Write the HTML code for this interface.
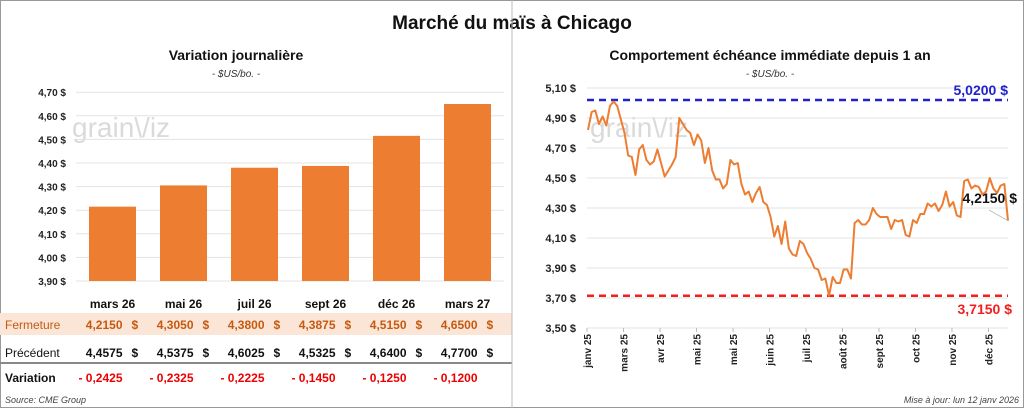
<!DOCTYPE html>
<html><head><meta charset="utf-8">
<style>
body{margin:0;width:1024px;height:408px;background:#fff;font-family:"Liberation Sans",sans-serif;overflow:hidden}
#wrap{position:absolute;left:0;top:0;width:1022px;height:406px;border:1px solid #999}
text{font-family:"Liberation Sans",sans-serif}
</style></head><body>
<div id="wrap">
<svg id="svg" width="1024" height="408" style="position:absolute;left:-1px;top:-1px">
<text x="512" y="29" text-anchor="middle" font-size="19" font-weight="bold" fill="#111">Marché du maïs à Chicago</text>
<text x="236" y="60" text-anchor="middle" font-size="14" font-weight="bold" fill="#111">Variation  journalière</text>
<text x="236" y="77" text-anchor="middle" font-size="10" font-style="italic" fill="#333">- $US/bo. -</text>
<text x="770" y="60" text-anchor="middle" font-size="14" font-weight="bold" fill="#111">Comportement échéance immédiate depuis 1 an</text>
<text x="770" y="77" text-anchor="middle" font-size="10" font-style="italic" fill="#333">- $US/bo. -</text>
<rect x="0" y="313" width="512" height="22" fill="#fbe5d6"/>
<line x1="0" y1="363" x2="512" y2="363" stroke="#888" stroke-width="2"/>
<line x1="512" y1="0" x2="512" y2="408" stroke="#bbb" stroke-width="1"/>
<text x="72" y="137" font-size="28" fill="#dadada">grain\/iz</text>
<text x="590" y="137" font-size="28" fill="#dadada">grain\/iz</text>
<g id="left"></g><g id="right"></g><g id="table"></g>
<text x="5" y="403" font-size="9" font-style="italic" fill="#444">Source: CME Group</text>
<text x="1019" y="403" text-anchor="end" font-size="9" font-style="italic" fill="#444">Mise à jour: lun 12 janv 2026</text>
</svg></div>
<script>
const barCats=["mars 26","mai 26","juil 26","sept 26","déc 26","mars 27"];
const closeVals=[4.2150,4.3050,4.3800,4.3875,4.5150,4.6500];
const prevVals=[4.4575,4.5375,4.6025,4.5325,4.6400,4.7700];
const varLabels=["- 0,2425","- 0,2325","- 0,2225","- 0,1450","- 0,1250","- 0,1200"];
const leftTicks=[3.9,4.0,4.1,4.2,4.3,4.4,4.5,4.6,4.7];
const priceVals=[4.82,4.94,4.95,4.86,4.91,4.85,4.98,5.01,4.98,4.89,4.80,4.65,4.64,4.52,4.69,4.72,4.62,4.59,4.61,4.69,4.60,4.51,4.55,4.59,4.64,4.90,4.86,4.82,4.80,4.72,4.79,4.75,4.60,4.70,4.55,4.49,4.49,4.43,4.46,4.62,4.59,4.60,4.46,4.39,4.41,4.34,4.40,4.44,4.34,4.32,4.24,4.11,4.18,4.06,4.21,4.03,3.99,3.98,4.08,4.06,4.00,3.96,3.90,3.89,3.82,3.83,3.715,3.84,3.80,3.80,3.89,3.89,3.83,4.20,4.22,4.19,4.19,4.22,4.30,4.26,4.24,4.24,4.24,4.16,4.22,4.21,4.22,4.12,4.11,4.22,4.20,4.26,4.26,4.33,4.31,4.33,4.28,4.32,4.41,4.31,4.34,4.25,4.24,4.48,4.49,4.43,4.45,4.44,4.39,4.41,4.50,4.43,4.40,4.45,4.46,4.215];
const rightTicks=[3.5,3.7,3.9,4.1,4.3,4.5,4.7,4.9,5.1];
const monthLabels=["janv 25","mars 25","avr 25","mai 25","mai 25","juin 25","juil 25","août 25","sept 25","oct 25","nov 25","déc 25"];
const highVal=5.02, lowVal=3.715, lastVal=4.215;
const NS="http://www.w3.org/2000/svg";
function mk(parent,tag,attrs,txt){const e=document.createElementNS(NS,tag);for(const k in attrs)e.setAttribute(k,attrs[k]);if(txt!==undefined)e.textContent=txt;parent.appendChild(e);return e;}
const fmt=v=>v.toFixed(2).replace('.',',')+' $';
const fmt4=v=>v.toFixed(4).replace('.',',');
const L=document.getElementById('left');
const ly=v=>281-(v-3.9)*236;
const lx=i=>112.5+i*71;
leftTicks.forEach(t=>{
 const g=mk(L,'line',{x1:76,x2:504,y1:ly(t),y2:ly(t),stroke:'#e3e3e3'});
 
 
 const tx=mk(L,'text',{x:66,y:ly(t)+4,'text-anchor':'end','font-size':10,'font-weight':'bold',fill:'#222'},fmt(t));
 
 
});
closeVals.forEach((v,i)=>{
 const r=mk(L,'rect',{x:lx(i)-23.5,y:ly(v),width:47,height:281-ly(v),fill:'#ed7d31'});
 
 
});
const T=document.getElementById('table');
function cell(x,y,t,opt,name){const e=mk(T,'text',Object.assign({x:x,y:y,'font-size':12,'font-weight':'bold'},opt),t);
 
 return e;}
cell(5,329,'Fermeture',{fill:'#c55a11','font-weight':'normal'},'row-label-fermeture');
cell(5,357,'Précédent',{fill:'#111','font-weight':'normal'},'row-label-precedent');
cell(5,382,'Variation',{fill:'#111'},'row-label-variation');
barCats.forEach((c,i)=>{
 const cx=lx(i);
 cell(cx,308,c,{'text-anchor':'middle',fill:'#111'},'column-header');
 cell(cx+10,329,fmt4(closeVals[i]),{'text-anchor':'end',fill:'#c55a11'},'close-value');
 cell(cx+19,329,'$',{fill:'#c55a11'},'close-currency');
 cell(cx+10,357,fmt4(prevVals[i]),{'text-anchor':'end',fill:'#111'},'previous-value');
 cell(cx+19,357,'$',{fill:'#111'},'previous-currency');
 cell(cx+10,382,varLabels[i],{'text-anchor':'end',fill:'#e00'},'variation-value');
});
const R=document.getElementById('right');
const ry=v=>88+(5.1-v)*150;
const x0=588,x1=1008;
const rx=i=>x0+i*(x1-x0)/(priceVals.length-1);
rightTicks.forEach(t=>{
 const g=mk(R,'line',{x1:587,x2:1008,y1:ry(t),y2:ry(t),stroke:'#e3e3e3'});
 
 
 const tx=mk(R,'text',{x:576,y:ry(t)+4,'text-anchor':'end','font-size':11,'font-weight':'bold',fill:'#222'},fmt(t));
 
 
});
monthLabels.forEach((m,i)=>{
 const x=587+i*36.5;
 const tk=mk(R,'line',{x1:x,x2:x,y1:328,y2:332,stroke:'#bbb'});
 
 
 const t=mk(R,'text',{x:0,y:0,transform:`translate(${x+4},334) rotate(-90)`,'text-anchor':'end','font-size':10,'font-weight':'bold',fill:'#222'},m);
 
 
});
const hl=mk(R,'line',{x1:587,x2:1008,y1:ry(highVal),y2:ry(highVal),stroke:'#2222cc','stroke-width':2.5,'stroke-dasharray':'7,5'});


const ll=mk(R,'line',{x1:587,x2:1008,y1:ry(lowVal),y2:ry(lowVal),stroke:'#f02020','stroke-width':2.5,'stroke-dasharray':'7,5'});


const ht=mk(R,'text',{x:1008,y:ry(highVal)-5,'text-anchor':'end','font-size':14,'font-weight':'bold',fill:'#2222cc'},fmt4(highVal)+' $');


const lt=mk(R,'text',{x:1012,y:ry(lowVal)+18,'text-anchor':'end','font-size':14,'font-weight':'bold',fill:'#f02020'},fmt4(lowVal)+' $');


const p=mk(R,'polyline',{points:priceVals.map((v,i)=>rx(i)+','+ry(v)).join(' '),fill:'none',stroke:'#ed7d31','stroke-width':2,'stroke-linejoin':'round'});


const ldr=mk(R,'line',{x1:989,y1:210,x2:x1,y2:ry(lastVal),stroke:'#bbb'});


const lst=mk(R,'text',{x:1017,y:203,'text-anchor':'end','font-size':14,'font-weight':'bold',fill:'#111'},fmt4(lastVal)+' $');


</script>
</body></html>
